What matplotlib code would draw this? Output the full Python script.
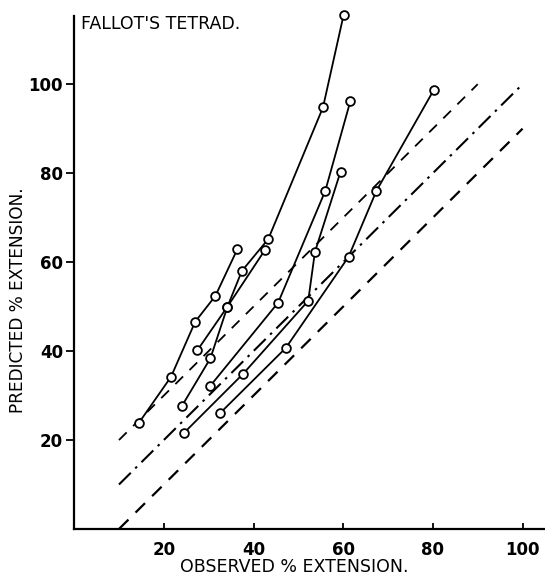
import numpy as np
import matplotlib
matplotlib.use("Agg")
import matplotlib.pyplot as plt

# patient curves: observed vs predicted % extension
obs_a = [14.4, 21.6, 27.0, 31.5, 36.4]
pred_a = [23.8, 34.2, 46.6, 52.4, 62.9]
obs_b = [30.3, 45.5, 56.0, 61.6]
pred_b = [32.1, 50.9, 76.0, 96.2]
obs_c = [24.4, 37.7, 52.2, 53.7, 59.4]
pred_c = [21.5, 34.9, 51.3, 62.3, 80.3]
obs_d = [32.5, 47.2, 61.2, 67.4, 80.2]
pred_d = [26.0, 40.7, 61.2, 76.0, 98.7]
obs_e = [24.0, 30.4, 34.2, 42.6]
pred_e = [27.6, 38.4, 50.0, 62.8]
obs_f = [27.5, 34.2, 37.4, 43.3, 55.5, 60.1]
pred_f = [40.2, 50.0, 58.0, 65.2, 94.8, 115.6]

# identity line and +/- 10 limits
ident_x = [10, 100]
ident_y = [10, 100]
upper_x = [10, 90]
upper_y = [20, 100]
lower_x = [10, 100]
lower_y = [0, 90]

xticks = [20, 40, 60, 80, 100]
yticks = [20, 40, 60, 80, 100]


def main():
    fig = plt.figure(figsize=(5.45, 5.76), dpi=100)
    ax = fig.add_axes([0.136, 0.0816, 0.864, 0.8904])

    ax.plot(upper_x, upper_y, color="black", lw=1.3, dashes=(6, 5))
    ax.plot(ident_x, ident_y, color="black", lw=1.5, dashes=(8, 3, 1.2, 3))
    ax.plot(lower_x, lower_y, color="black", lw=1.6, dashes=(6, 4.5))

    for xs, ys in [(obs_a, pred_a), (obs_b, pred_b), (obs_c, pred_c),
                   (obs_d, pred_d), (obs_e, pred_e), (obs_f, pred_f)]:
        ax.plot(xs, ys, color="black", lw=1.3, marker="o", ms=6.3,
                mfc="white", mec="black", mew=1.3, clip_on=False, zorder=3)

    ax.set_xlim(0, 105)
    ax.set_ylim(0, 115.3)
    ax.spines["top"].set_visible(False)
    ax.spines["right"].set_visible(False)
    ax.spines["left"].set_linewidth(1.6)
    ax.spines["bottom"].set_linewidth(1.6)

    ax.set_xticks(xticks)
    ax.set_yticks(yticks)
    ax.tick_params(axis="x", direction="in", length=4, width=1.3, pad=9,
                   labelsize=12)
    ax.tick_params(axis="y", direction="out", length=6, width=1.3, pad=2,
                   labelsize=12)
    for lab in ax.get_xticklabels() + ax.get_yticklabels():
        lab.set_fontweight("bold")

    ax.set_xlabel("OBSERVED % EXTENSION.", fontsize=12.5)
    ax.set_ylabel("PREDICTED % EXTENSION.", fontsize=12.2)
    ax.xaxis.set_label_coords(0.467, -0.0745)
    ax.yaxis.set_label_coords(-0.12, 0.446)
    ax.xaxis.label.set_va("center")
    ax.yaxis.label.set_va("center")
    ax.text(0.014, 0.984, "FALLOT'S TETRAD.", transform=ax.transAxes,
            fontsize=12.5, va="center", ha="left")

    fig.savefig("out.png", dpi=100)
    plt.close(fig)


if __name__ == "__main__":
    main()
